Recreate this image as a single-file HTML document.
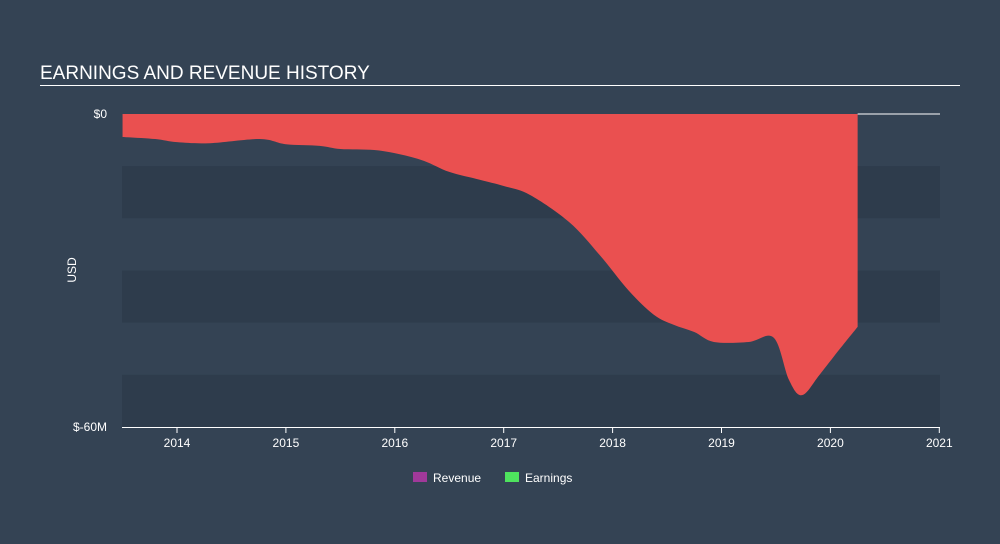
<!DOCTYPE html>
<html><head><meta charset="utf-8"><style>
body{margin:0;width:1000px;height:544px;background:#344354;font-family:"Liberation Sans",sans-serif;overflow:hidden}
svg{display:block}
</style></head><body>
<svg width="1000" height="544">
<text x="40" y="79" fill="#fff" font-size="19">EARNINGS AND REVENUE HISTORY</text>
<rect x="40" y="85" width="920" height="1" fill="#fff"/>
<g id="bands"></g>
<g id="area"></g>
<g id="axes"></g>
<text x="76" y="270" fill="#fff" font-size="12" transform="rotate(-90 76 270)" text-anchor="middle">USD</text>
<g>
<rect x="413" y="472" width="14" height="10" fill="#a0399a"/>
<text x="433" y="482" fill="#fff" font-size="12">Revenue</text>
<rect x="505" y="472" width="14" height="10" fill="#4ee35e"/>
<text x="525" y="482" fill="#fff" font-size="12">Earnings</text>
</g>
</svg>
<script>
const years=[2013.5,2013.8,2014,2014.3,2014.76,2015,2015.31,2015.5,2015.81,2016.04,2016.27,2016.5,2016.78,2017,2017.24,2017.6,2017.88,2018.15,2018.38,2018.56,2018.75,2018.93,2019.25,2019.48,2019.62,2019.74,2019.9,2020.08,2020.25];
const earnings=[-4.4,-4.8,-5.4,-5.6,-4.8,-5.8,-6.1,-6.7,-6.9,-7.7,-9.0,-11.1,-12.6,-13.8,-15.5,-20.7,-27,-33.9,-38.5,-40.4,-41.8,-43.7,-43.7,-42.9,-51,-53.9,-50,-45.2,-40.8];
const xTicks=[2014,2015,2016,2017,2018,2019,2020,2021];
const yTicks=[0,-60];
const yLabels=["$0","$-60M"];
const X0=122,X1=940,Y0=114,Y1=427;
const x=t=>177+(t-2014)*108.9;
const y=v=>Y0+(0-v)/60*(Y1-Y0);
const NS="http://www.w3.org/2000/svg";
function mk(tag,attrs,parent){const e=document.createElementNS(NS,tag);for(const k in attrs)e.setAttribute(k,attrs[k]);parent.appendChild(e);return e;}
const bands=document.getElementById('bands');
for(let i=0;i<6;i++){
const r=mk('rect',{x:X0,y:Y0+i*(Y1-Y0)/6,width:X1-X0,height:(Y1-Y0)/6,fill:i%2?'#2e3c4c':'#344354'},bands);


}
// area path with catmull-rom smoothing
const pts=years.map((t,i)=>[x(t),y(earnings[i])]);
let d=`M${pts[0][0]},${y(0)} L${pts[0][0]},${pts[0][1]}`;
for(let i=0;i<pts.length-1;i++){
const p0=pts[Math.max(0,i-1)],p1=pts[i],p2=pts[i+1],p3=pts[Math.min(pts.length-1,i+2)];
const c1=[p1[0]+(p2[0]-p0[0])/6,p1[1]+(p2[1]-p0[1])/6];
const c2=[p2[0]-(p3[0]-p1[0])/6,p2[1]-(p3[1]-p1[1])/6];
d+=` C${c1[0]},${c1[1]} ${c2[0]},${c2[1]} ${p2[0]},${p2[1]}`;
}
d+=` L${pts[pts.length-1][0]},${y(0)} Z`;
const area=mk('path',{d:d,fill:'#ea5050'},document.getElementById('area'));


const ax=document.getElementById('axes');
const zl=mk('line',{x1:x(years[years.length-1]),x2:X1,y1:y(0),y2:y(0),stroke:'#fff','stroke-width':1},ax);


const xl=mk('line',{x1:X0,x2:X1,y1:Y1+0.5,y2:Y1+0.5,stroke:'#fff','stroke-width':1},ax);


xTicks.forEach(t=>{
const tk=mk('line',{x1:x(t),x2:x(t),y1:Y1,y2:Y1+6,stroke:'#fff'},ax);


const tx=mk('text',{x:x(t),y:Y1+20,fill:'#fff','font-size':12,'text-anchor':'middle'},ax);
tx.textContent=t;


});
yTicks.forEach((v,i)=>{
const tx=mk('text',{x:107,y:y(v)+4,fill:'#fff','font-size':12,'text-anchor':'end'},ax);
tx.textContent=yLabels[i];


});
</script>
</body></html>
